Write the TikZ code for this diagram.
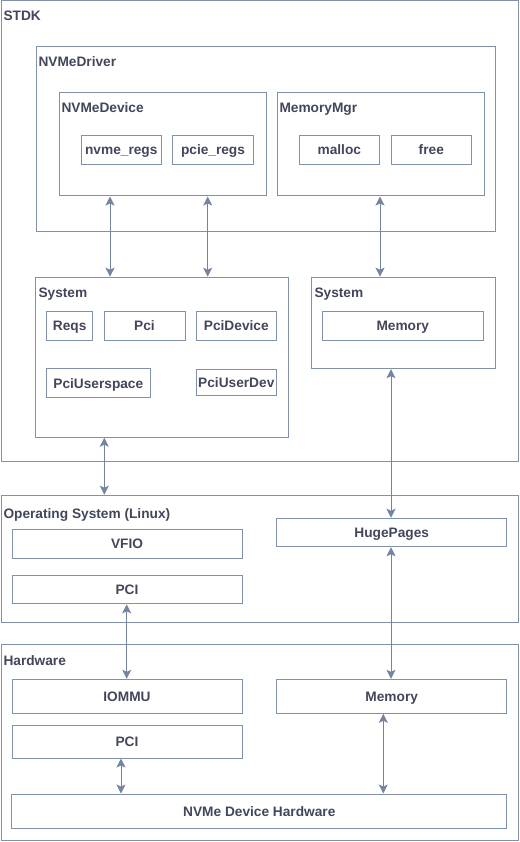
\documentclass[tikz,border=0pt]{standalone}
\usepackage{fontspec}
\setmainfont{Liberation Sans}
\usetikzlibrary{arrows.meta}

\definecolor{edgeblue}{RGB}{128,145,172}
\definecolor{arrowblue}{RGB}{116,133,162}
\definecolor{inkgray}{RGB}{66,70,90}

\begin{document}
\begin{tikzpicture}[x=1pt, y=-1pt, line width=1pt,
    font=\fontsize{13.7}{16}\selectfont\bfseries, text=inkgray]
    \tikzset{
        frame/.style 2 args={draw=edgeblue, anchor=north west, inner sep=0pt,
            minimum width=#1pt, minimum height=#2pt},
        part/.style 2 args={draw=edgeblue, inner sep=0pt, text height=13pt, text depth=3pt,
            minimum width=#1pt, minimum height=#2pt},
        lbl/.style={anchor=base west, inner sep=0pt},
        link/.style={draw=arrowblue, {Stealth[length=9pt, width=9pt, inset=2pt]}-{Stealth[length=9pt, width=9pt, inset=2pt]}}
    }
    \useasboundingbox (0,0) rectangle (519,842);

    % STDK
    \node[frame={517.5}{460}] (stdk) at (0.5,0.5) {};
    \node[lbl] (stdk_l) at (3,20.5) {STDK};
    \node[frame={459.5}{184}] (drv) at (35.5,46.5) {};
    \node[lbl] (drv_l) at (38,67) {NVMeDriver};
    \node[frame={207}{103}] (dev) at (58.5,92.5) {};
    \node[lbl] (dev_l) at (61,113) {NVMeDevice};
    \node[part={80.5}{29}] (nvme) at (121.3,150) {nvme\_regs};
    \node[part={80.5}{29}] (pcie) at (213,150) {pcie\_regs};
    \node[frame={207}{103}] (mgr) at (276.5,92.5) {};
    \node[lbl] (mgr_l) at (279,113) {MemoryMgr};
    \node[part={80.5}{29}] (malloc) at (339.3,150) {malloc};
    \node[part={80.5}{29}] (free) at (431.3,150) {free};

    \node[frame={253}{160}] (sysl) at (35.3,276.7) {};
    \node[lbl] (sysl_l) at (38,297) {System};
    \node[part={46}{29}] (reqs) at (69.7,325.5) {Reqs};
    \node[part={81}{29}] (pci) at (144.5,325.5) {Pci};
    \node[part={80.5}{29}] (pcidev) at (236.3,325.5) {PciDevice};
    \node[part={103.5}{28.5}] (pciuser) at (98.3,383) {PciUserspace};
    \node[part={80.5}{26.5}] (pciudev) at (236.3,382.7) {PciUserDev};

    \node[frame={184}{91.5}] (sysr) at (311.2,276.7) {};
    \node[lbl] (sysr_l) at (314,297) {System};
    \node[part={161}{29}] (smem) at (402.8,325.5) {Memory};

    % Operating System (Linux)
    \node[frame={517.5}{127}] (os) at (0.5,494.7) {};
    \node[lbl] (os_l) at (3,518) {Operating System (Linux)};
    \node[part={230}{28.7}] (vfio) at (127,543.7) {VFIO};
    \node[part={230}{28.7}] (ospci) at (127,589.5) {PCI};
    \node[part={230}{28.5}] (huge) at (391.7,532.5) {HugePages};

    % Hardware
    \node[frame={517.5}{195.7}] (hw) at (0.5,644.3) {};
    \node[lbl] (hw_l) at (3,665) {Hardware};
    \node[part={230}{34}] (iommu) at (127,696.3) {IOMMU};
    \node[part={230}{33}] (hwpci) at (127,741.5) {PCI};
    \node[part={230}{34}] (hwmem) at (391.7,696.3) {Memory};
    \node[part={494.7}{34.3}] (nvmehw) at (259.3,811.2) {NVMe Device Hardware};

    \coordinate (c1) at (110,0);
    \coordinate (c2) at (207.7,0);
    \coordinate (c3) at (380,0);
    \coordinate (c4) at (104.3,0);
    \coordinate (c5) at (391,0);
    \coordinate (c6) at (126.7,0);
    \coordinate (c7) at (121,0);
    \coordinate (c8) at (383.3,0);
    \draw[link] (dev.south -| c1) -- (sysl.north -| c1);
    \draw[link] (dev.south -| c2) -- (sysl.north -| c2);
    \draw[link] (mgr.south -| c3) -- (sysr.north -| c3);
    \draw[link] (sysl.south -| c4) -- (os.north -| c4);
    \draw[link] (sysr.south -| c5) -- (huge.north -| c5);
    \draw[link] (huge.south -| c5) -- (hwmem.north -| c5);
    \draw[link] (ospci.south -| c6) -- (iommu.north -| c6);
    \draw[link] (hwpci.south -| c7) -- (nvmehw.north -| c7);
    \draw[link] (hwmem.south -| c8) -- (nvmehw.north -| c8);

\end{tikzpicture}
\end{document}
